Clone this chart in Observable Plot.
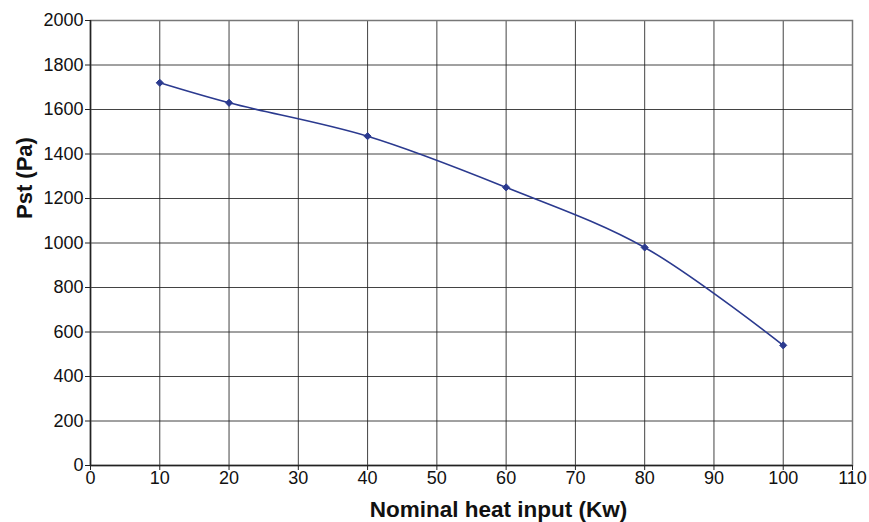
<!DOCTYPE html>
<html>
<head>
<meta charset="utf-8">
<script src="https://cdn.jsdelivr.net/npm/d3@7"></script>
<script src="https://cdn.jsdelivr.net/npm/@observablehq/plot@0.6"></script>
<style>
  html, body { margin: 0; padding: 0; background: #fff; }
  #chart svg { display: block; }
</style>
</head>
<body>
<div id="chart"></div>
<script>
const heatInput = [10, 20, 40, 60, 80, 100];
const pressure = [1720, 1630, 1480, 1250, 980, 540];
const xTicks = [0, 10, 20, 30, 40, 50, 60, 70, 80, 90, 100, 110];
const yTicks = [0, 200, 400, 600, 800, 1000, 1200, 1400, 1600, 1800, 2000];

const data = heatInput.map((x, i) => ({x, y: pressure[i]}));

const chart = Plot.plot({
  width: 869,
  height: 522,
  marginLeft: 90,
  marginTop: 20,
  marginRight: 17,
  marginBottom: 57,
  style: {fontFamily: "'Liberation Sans', Arial, sans-serif", fontSize: "18px", color: "#111"},
  x: {domain: [0, 110], ticks: xTicks},
  y: {domain: [0, 2000], ticks: yTicks},
  marks: [
    Plot.gridX(xTicks, {stroke: "#222", strokeOpacity: 0.85, strokeWidth: 1}),
    Plot.gridY(yTicks, {stroke: "#222", strokeOpacity: 0.85, strokeWidth: 1}),
    Plot.frame({stroke: "#777", strokeWidth: 1.5}),
    Plot.ruleX([0], {stroke: "#222", strokeWidth: 1.5}),
    Plot.ruleY([0], {stroke: "#222", strokeWidth: 1.5}),
    Plot.axisX(xTicks, {tickSize: 5, tickPadding: 1, fontSize: 18, label: null, stroke: "#222", tickFormat: d => String(d)}),
    Plot.axisY(yTicks, {tickSize: 5, tickPadding: 2, fontSize: 18, label: null, stroke: "#222", tickFormat: d => String(d)}),
    Plot.line(data, {x: "x", y: "y", stroke: "#2b3a8f", strokeWidth: 1.6, curve: "catmull-rom"}),
    Plot.dot(data, {x: "x", y: "y", symbol: "diamond2", r: 3.2, fill: "#2b3a8f", stroke: "#2b3a8f", strokeWidth: 1}),
    Plot.text(["Nominal heat input (Kw)"], {frameAnchor: "bottom", lineAnchor: "middle", dx: 27, dy: 44, fontSize: 22.5, fontWeight: "bold", fill: "#111"}),
    Plot.text(["Pst (Pa)"], {frameAnchor: "left", lineAnchor: "middle", dx: -66, dy: -24, rotate: -90, fontSize: 22, fontWeight: "bold", fill: "#111"})
  ]
});
document.getElementById("chart").appendChild(chart);
</script>
</body>
</html>
